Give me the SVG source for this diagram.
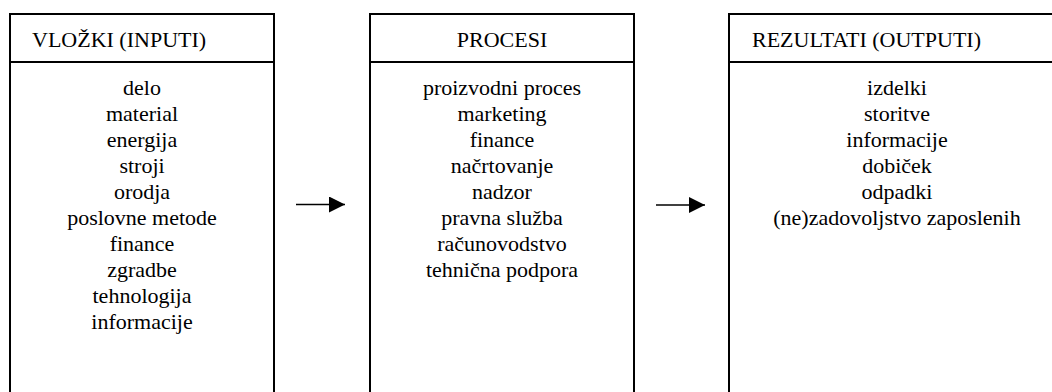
<svg xmlns="http://www.w3.org/2000/svg" width="1052" height="392" viewBox="0 0 1052 392">
  <defs>
    <style>
      .box { fill: #ffffff; stroke: #000000; stroke-width: 2; }
      .rule { stroke: #000000; stroke-width: 2; }
      text { font-family: 'Liberation Serif', 'DejaVu Serif', serif; font-size: 22px; fill: #000000; }
      .item { text-anchor: middle; }
      .flow { stroke: #000000; stroke-width: 1.6; fill: none; }
    </style>
    <marker id="tip" markerWidth="16" markerHeight="16" refX="16" refY="8" orient="auto" markerUnits="userSpaceOnUse">
      <path d="M0,0 L16,8 L0,16 Z" fill="#000000"/>
    </marker>
  </defs>
  <rect width="1052" height="392" fill="#ffffff"/>

  <!-- inputs -->
  <g id="node-inputs" font-family="Liberation Serif">
    <rect class="box" x="10" y="14" width="264" height="400"/>
    <line class="rule" x1="10" y1="62" x2="274" y2="62"/>
    <text class="head" x="32" y="47">VLOŽKI (INPUTI)</text>
    <text class="item" x="142" y="95">delo</text>
    <text class="item" x="142" y="121">material</text>
    <text class="item" x="142" y="147">energija</text>
    <text class="item" x="142" y="173">stroji</text>
    <text class="item" x="142" y="199">orodja</text>
    <text class="item" x="142" y="225">poslovne metode</text>
    <text class="item" x="142" y="251">finance</text>
    <text class="item" x="142" y="277">zgradbe</text>
    <text class="item" x="142" y="303">tehnologija</text>
    <text class="item" x="142" y="329">informacije</text>
  </g>

  <!-- processes -->
  <g id="node-processes" font-family="Liberation Serif">
    <rect class="box" x="370" y="14" width="264" height="400"/>
    <line class="rule" x1="370" y1="62" x2="634" y2="62"/>
    <text class="head" x="502" y="47" text-anchor="middle">PROCESI</text>
    <text class="item" x="502" y="95">proizvodni proces</text>
    <text class="item" x="502" y="121">marketing</text>
    <text class="item" x="502" y="147">finance</text>
    <text class="item" x="502" y="173">načrtovanje</text>
    <text class="item" x="502" y="199">nadzor</text>
    <text class="item" x="502" y="225">pravna služba</text>
    <text class="item" x="502" y="251">računovodstvo</text>
    <text class="item" x="502" y="277">tehnična podpora</text>
  </g>

  <!-- outputs -->
  <g id="node-outputs" font-family="Liberation Serif">
    <rect class="box" x="729" y="14" width="336" height="400"/>
    <line class="rule" x1="729" y1="62" x2="1065" y2="62"/>
    <text class="head" x="752" y="47">REZULTATI (OUTPUTI)</text>
    <text class="item" x="897" y="95">izdelki</text>
    <text class="item" x="897" y="121">storitve</text>
    <text class="item" x="897" y="147">informacije</text>
    <text class="item" x="897" y="173">dobiček</text>
    <text class="item" x="897" y="199">odpadki</text>
    <text class="item" x="897" y="225">(ne)zadovoljstvo zaposlenih</text>
  </g>

  <!-- connectors -->
  <g id="connectors">
    <line class="flow" x1="296" y1="204.5" x2="345" y2="204.5" marker-end="url(#tip)"/>
    <line class="flow" x1="656" y1="205" x2="705" y2="205" marker-end="url(#tip)"/>
  </g>
</svg>
